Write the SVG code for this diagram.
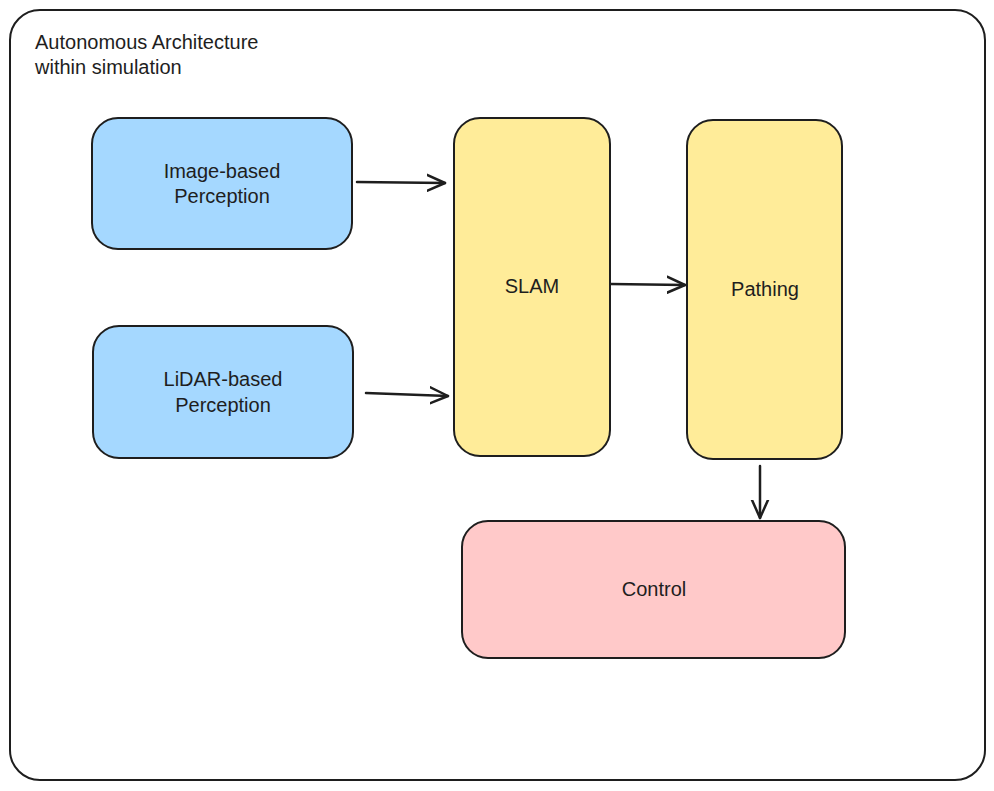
<svg xmlns="http://www.w3.org/2000/svg" width="994" height="791" viewBox="0 0 994 791">
<defs>
<style>
.box{stroke:#1e1e1e;stroke-width:2;}
.blue{fill:#a5d8ff;}
.yellow{fill:#ffec99;}
.red{fill:#ffc9c9;}
.t{font-family:"Liberation Sans",Arial,sans-serif;font-size:20px;fill:#1e1e1e;}
.c{text-anchor:middle;}
.conn{stroke:#1e1e1e;stroke-width:2.5;fill:none;stroke-linecap:round;stroke-linejoin:round;}
</style>
<marker id="arr" viewBox="0 0 20 20" refX="18" refY="10" markerWidth="20" markerHeight="20" markerUnits="userSpaceOnUse" orient="auto">
<path d="M0,2 L18,10 L0,18" fill="none" stroke="#1e1e1e" stroke-width="2.5" stroke-linecap="round" stroke-linejoin="round"/>
</marker>
</defs>
<rect width="994" height="791" fill="#ffffff"/>
<g id="frame">
<rect class="box" x="10" y="10" width="975" height="770" rx="30" fill="none"/>
<text class="t" x="35" y="49">Autonomous Architecture</text>
<text class="t" x="35" y="74">within simulation</text>
</g>
<g id="image-perception">
<rect class="box blue" x="92" y="118" width="260" height="131" rx="26"/>
<text class="t c" x="222" y="178">Image-based</text>
<text class="t c" x="222" y="203">Perception</text>
</g>
<g id="lidar-perception">
<rect class="box blue" x="93" y="326" width="260" height="132" rx="26"/>
<text class="t c" x="223" y="386">LiDAR-based</text>
<text class="t c" x="223" y="412">Perception</text>
</g>
<g id="slam">
<rect class="box yellow" x="454" y="118" width="156" height="338" rx="26"/>
<text class="t c" x="532" y="293">SLAM</text>
</g>
<g id="pathing">
<rect class="box yellow" x="687" y="120" width="155" height="339" rx="26"/>
<text class="t c" x="765" y="296">Pathing</text>
</g>
<g id="control">
<rect class="box red" x="462" y="521" width="383" height="137" rx="26"/>
<text class="t c" x="654" y="596">Control</text>
</g>
<g id="connectors">
<path class="conn" d="M357,182 L445,183" marker-end="url(#arr)"/>
<path class="conn" d="M366,393 L448,396" marker-end="url(#arr)"/>
<path class="conn" d="M611,284 L685,285" marker-end="url(#arr)"/>
<path class="conn" d="M760,466 L760,518" marker-end="url(#arr)"/>
</g>
</svg>
